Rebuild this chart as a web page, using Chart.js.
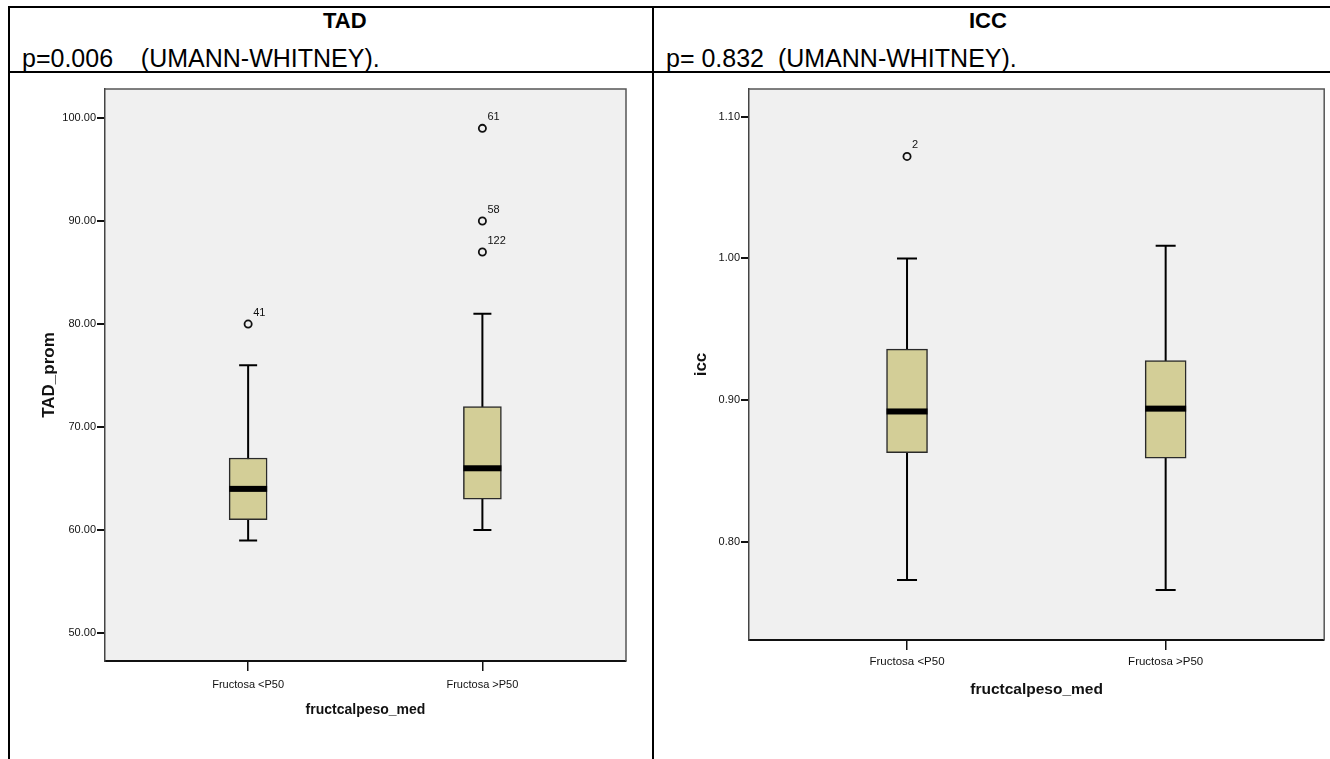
<!DOCTYPE html>
<html>
<head>
<meta charset="utf-8">
<script src="https://cdn.jsdelivr.net/npm/chart.js@4.4.1/dist/chart.umd.min.js"></script>
<style>
  html, body { margin: 0; padding: 0; background: #fff; }
  body { width: 1330px; height: 759px; position: relative; overflow: hidden; font-family: 'Liberation Sans', Arial, sans-serif; }
  .line { position: absolute; background: #000; }
  .txt { position: absolute; white-space: pre; color: #000; }
  .title { font-weight: bold; font-size: 22px; line-height: 22px; }
  .ptxt { font-size: 25px; line-height: 25px; }
  canvas { position: absolute; }
</style>
</head>
<body>
<div class="line" style="left:8px;top:6px;width:1322px;height:2px"></div>
<div class="line" style="left:8px;top:71px;width:1322px;height:2px"></div>
<div class="line" style="left:8px;top:6px;width:2px;height:753px"></div>
<div class="line" style="left:652px;top:6px;width:2px;height:753px"></div>

<div class="txt title" id="t1" style="top:10px">TAD</div>
<div class="txt ptxt" style="left:22px;top:46px">p=0.006    (UMANN-WHITNEY).</div>
<div class="txt title" id="t2" style="top:10px">ICC</div>
<div class="txt ptxt" style="left:666px;top:46px">p= 0.832  (UMANN-WHITNEY).</div>

<canvas id="tadChart" width="642" height="686" style="left:10px;top:73px"></canvas>
<canvas id="iccChart" width="676" height="686" style="left:654px;top:73px"></canvas>

<script>
// group labels
const groups = ["Fructosa <P50", "Fructosa >P50"];

// TAD_prom
const tadMin = [59, 60];
const tadQ1 = [61, 63];
const tadMedian = [64, 66];
const tadQ3 = [67, 72];
const tadMax = [76, 81];
const tadOutliers = [80, 87, 90, 99];
const tadOutlierGroup = [0, 1, 1, 1];
const tadOutlierCase = ["41", "122", "58", "61"];
const tadTicks = [50, 60, 70, 80, 90, 100];

// icc
const iccMin = [0.773, 0.766];
const iccQ1 = [0.863, 0.859];
const iccMedian = [0.892, 0.894];
const iccQ3 = [0.936, 0.928];
const iccMax = [1.000, 1.009];
const iccOutliers = [1.072];
const iccOutlierGroup = [0];
const iccOutlierCase = ["2"];
const iccTicks = [0.80, 0.90, 1.00, 1.10];

// centre the two headings
document.getElementById("t1").style.left = (345 - document.getElementById("t1").offsetWidth / 2) + "px";
document.getElementById("t2").style.left = (988 - document.getElementById("t2").offsetWidth / 2) + "px";

Chart.defaults.font.family = "'Liberation Sans Narrow', 'Liberation Sans', Arial, sans-serif";
Chart.defaults.color = "#111";

const boxPlugin = {
  id: "boxes",
  beforeDraw(chart) {
    const a = chart.chartArea;
    const ctx = chart.ctx;
    ctx.save();
    ctx.fillStyle = "#f0f0f0";
    ctx.fillRect(a.left, a.top, a.right - a.left, a.bottom - a.top);
    ctx.restore();
  },
  beforeDatasetsDraw(chart, args, o) {
    const ctx = chart.ctx;
    const x = chart.scales.x, y = chart.scales.y;
    ctx.save();
    ctx.strokeStyle = "#000";
    ctx.lineWidth = 2;
    for (let i = 0; i < o.min.length; i++) {
      const px = x.getPixelForValue(i);
      const pMin = y.getPixelForValue(o.min[i]);
      const pMax = y.getPixelForValue(o.max[i]);
      ctx.beginPath();
      ctx.moveTo(px, pMax);
      ctx.lineTo(px, pMin);
      ctx.moveTo(px - o.cap / 2, pMax);
      ctx.lineTo(px + o.cap / 2, pMax);
      ctx.moveTo(px - o.cap / 2, pMin);
      ctx.lineTo(px + o.cap / 2, pMin);
      ctx.stroke();
    }
    ctx.restore();
  },
  afterDatasetsDraw(chart, args, o) {
    const ctx = chart.ctx;
    const a = chart.chartArea;
    const x = chart.scales.x, y = chart.scales.y;
    ctx.save();
    // medians
    ctx.fillStyle = "#000";
    for (let i = 0; i < o.median.length; i++) {
      const px = x.getPixelForValue(i);
      const pm = y.getPixelForValue(o.median[i]);
      ctx.fillRect(px - o.boxWidth / 2, pm - 3, o.boxWidth, 6);
    }
    // case numbers next to outliers
    const meta = chart.getDatasetMeta(1);
    ctx.font = "11px 'Liberation Sans Narrow', 'Liberation Sans', sans-serif";
    ctx.fillStyle = "#111";
    ctx.textAlign = "left";
    ctx.textBaseline = "alphabetic";
    meta.data.forEach((pt, i) => {
      ctx.fillText(o.cases[i], pt.x + 5, pt.y - 8);
    });
    // frame on top and right
    ctx.strokeStyle = "#555";
    ctx.lineWidth = 1.5;
    ctx.beginPath();
    ctx.moveTo(a.left, a.top);
    ctx.lineTo(a.right, a.top);
    ctx.lineTo(a.right, a.bottom);
    ctx.stroke();
    ctx.restore();
  }
};

function makeBoxChart(id, s) {
  const boxData = groups.map((g, i) => ({ x: i, y: [s.q1[i], s.q3[i]] }));
  const outData = s.outliers.map((v, i) => ({ x: s.outGroup[i], y: v }));
  return new Chart(document.getElementById(id), {
    type: "bar",
    data: {
      datasets: [{
        type: "bar",
        data: boxData,
        backgroundColor: "#d3ce97",
        borderColor: "#2a2a2a",
        borderWidth: 1.5,
        borderSkipped: false,
        barThickness: s.boxWidth
      }, {
        type: "scatter",
        data: outData,
        pointStyle: "circle",
        pointRadius: 3.6,
        pointBorderWidth: 1.8,
        pointBorderColor: "#111",
        pointBackgroundColor: "rgba(0,0,0,0)"
      }]
    },
    options: {
      responsive: false,
      animation: false,
      events: [],
      layout: { padding: { left: 0, top: 16, right: s.padRight, bottom: 0 } },
      plugins: {
        legend: { display: false },
        tooltip: { enabled: false },
        boxes: { min: s.min, max: s.max, median: s.median, cases: s.cases, cap: s.cap, boxWidth: s.boxWidth }
      },
      scales: {
        x: {
          type: "linear",
          offset: false,
          min: -0.611,
          max: 1.613,
          afterBuildTicks: sc => { sc.ticks = groups.map((g, i) => ({ value: i })); },
          afterFit: sc => { sc.height = s.xHeight; },
          ticks: {
            callback: v => groups[v],
            font: { size: s.xTickSize },
            color: "#111",
            padding: s.xTickPad,
            maxRotation: 0,
            autoSkip: false
          },
          grid: { offset: false, drawOnChartArea: false, tickLength: 10, tickColor: "#111", lineWidth: 1.5 },
          border: { display: true, color: "#111", width: 2 },
          title: {
            display: true,
            text: "fructcalpeso_med",
            font: { size: s.xTitleSize, weight: "bold" },
            color: "#111",
            padding: { top: 0, bottom: s.xTitlePad }
          }
        },
        y: {
          min: s.yMin,
          max: s.yMax,
          afterBuildTicks: sc => { sc.ticks = s.ticks.map(v => ({ value: v })); },
          afterFit: sc => { sc.width = 95; },
          ticks: {
            callback: v => v.toFixed(2),
            font: { size: 11 },
            color: "#111",
            padding: 1
          },
          grid: { drawOnChartArea: false, tickLength: 8, tickColor: "#111", lineWidth: 2 },
          border: { display: true, color: "#444", width: 1.5 },
          title: {
            display: true,
            text: s.yTitle,
            font: { family: "'Liberation Sans', Arial, sans-serif", size: 17, weight: "bold" },
            color: "#111",
            padding: { top: s.yTitlePad, bottom: 0 }
          }
        }
      }
    },
    plugins: [boxPlugin]
  });
}

makeBoxChart("tadChart", {
  min: tadMin, q1: tadQ1, median: tadMedian, q3: tadQ3, max: tadMax,
  outliers: tadOutliers, outGroup: tadOutlierGroup, cases: tadOutlierCase, ticks: tadTicks,
  yMin: 47.29, yMax: 102.82, yTitle: "TAD_prom",
  boxWidth: 38, cap: 18, padRight: 26,
  xHeight: 98, xTickSize: 11, xTickPad: 7, xTitleSize: 14, xTitlePad: 40, yTitlePad: 29
});

makeBoxChart("iccChart", {
  min: iccMin, q1: iccQ1, median: iccMedian, q3: iccQ3, max: iccMax,
  outliers: iccOutliers, outGroup: iccOutlierGroup, cases: iccOutlierCase, ticks: iccTicks,
  yMin: 0.7307, yMax: 1.1196, yTitle: "icc",
  boxWidth: 41, cap: 20, padRight: 1,
  xHeight: 119, xTickSize: 11.5, xTickPad: 5, xTitleSize: 15.5, xTitlePad: 60, yTitlePad: 37
});
</script>
</body>
</html>
